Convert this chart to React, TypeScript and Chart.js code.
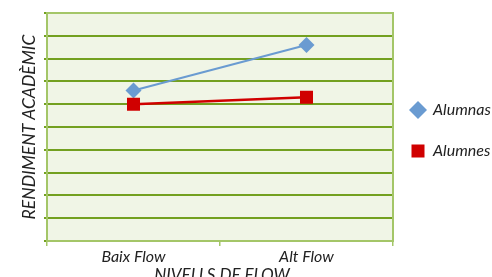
import React, { useEffect, useRef } from "react";
import { Chart, registerables } from "chart.js";

Chart.register(...registerables);

const categories = ["Baix Flow", "Alt Flow"];
const alumnas = [6.6, 8.6];
const alumnes = [6.0, 6.3];
const seriesNames = ["Alumnas", "Alumnes"];
const yMin = 0;
const yMax = 10;
const yStep = 1;
const xTitle = "NIVELLS DE FLOW";
const yTitle = "RENDIMENT ACADÈMIC";

const BLUE = "#6a9bd1";
const RED = "#d00000";
const GRID = "#73a020";
const BORDER = "#a4c668";
const BG = "#f0f5e6";
const FONT = "Lato, 'Open Sans', sans-serif";

const decorPlugin = {
  id: "decor",
  beforeDraw(chart: any) {
    const { ctx, chartArea: a } = chart;
    ctx.save();
    ctx.fillStyle = BG;
    ctx.fillRect(a.left, a.top, a.right - a.left, a.bottom - a.top);
    ctx.restore();
  },
  afterDraw(chart: any) {
    const { ctx, chartArea: a } = chart;
    ctx.save();
    ctx.strokeStyle = BORDER;
    ctx.lineWidth = 2;
    ctx.strokeRect(a.left, a.top, a.right - a.left, a.bottom - a.top);
    // titles
    ctx.fillStyle = "#222";
    ctx.font = `italic 17px ${FONT}`;
    ctx.textAlign = "center";
    ctx.textBaseline = "middle";
    ctx.fillText(xTitle, 222, 276);
    ctx.save();
    ctx.translate(29, 127);
    ctx.rotate(-Math.PI / 2);
    ctx.font = `italic 17.5px ${FONT}`;
    ctx.fillText(yTitle, 0, 0);
    ctx.restore();
    // legend
    const lx = 418;
    const ys = [110, 151];
    ctx.fillStyle = BLUE;
    ctx.beginPath();
    ctx.moveTo(lx, ys[0] - 9);
    ctx.lineTo(lx + 9, ys[0]);
    ctx.lineTo(lx, ys[0] + 9);
    ctx.lineTo(lx - 9, ys[0]);
    ctx.closePath();
    ctx.fill();
    ctx.fillStyle = RED;
    ctx.fillRect(lx - 6.5, ys[1] - 6.5, 13, 13);
    ctx.fillStyle = "#222";
    ctx.font = `italic 16px ${FONT}`;
    ctx.textAlign = "left";
    ctx.fillText(seriesNames[0], 433, ys[0]);
    ctx.fillText(seriesNames[1], 433, ys[1]);
    ctx.restore();
  },
};

export default function App() {
  const ref = useRef<HTMLCanvasElement>(null);
  useEffect(() => {
    document.body.style.margin = "0";
    const chart = new Chart(ref.current!, {
      type: "line",
      data: {
        labels: categories,
        datasets: [
          {
            label: seriesNames[0],
            data: alumnas,
            borderColor: BLUE,
            backgroundColor: BLUE,
            borderWidth: 2,
            pointStyle: "rectRot",
            pointRadius: 8,
            pointHoverRadius: 8,
            pointBorderWidth: 0,
            order: 1,
          },
          {
            label: seriesNames[1],
            data: alumnes,
            borderColor: RED,
            backgroundColor: RED,
            borderWidth: 2.5,
            pointStyle: "rect",
            pointRadius: 9.2,
            pointHoverRadius: 9.2,
            pointBorderWidth: 0,
            order: 0,
          },
        ],
      },
      options: {
        animation: false,
        responsive: false,
        maintainAspectRatio: false,
        layout: { padding: { top: 13, right: 99, left: 0, bottom: 0 } },
        plugins: { legend: { display: false }, tooltip: { enabled: false } },
        scales: {
          x: {
            offset: true,
            afterFit: (s: any) => {
              s.height = 36;
            },
            grid: {
              offset: true,
              drawOnChartArea: false,
              drawTicks: true,
              tickLength: 5,
              color: BORDER,
              lineWidth: 1.5,
            },
            border: { color: BORDER, width: 2 },
            ticks: {
              color: "#222",
              font: { family: FONT, size: 16, style: "italic" },
              padding: 1,
            },
          },
          y: {
            min: yMin,
            max: yMax,
            afterFit: (s: any) => {
              s.width = 47;
            },
            ticks: { display: false, stepSize: yStep },
            grid: {
              color: GRID,
              lineWidth: 2,
              drawTicks: true,
              tickLength: 3,
            },
            border: { color: BORDER, width: 2 },
          },
        },
      },
      plugins: [decorPlugin],
    });
    return () => chart.destroy();
  }, []);
  return (
    <div style={{ width: 492, height: 277 }}>
      <canvas ref={ref} width={492} height={277} style={{ width: 492, height: 277 }} />
    </div>
  );
}
